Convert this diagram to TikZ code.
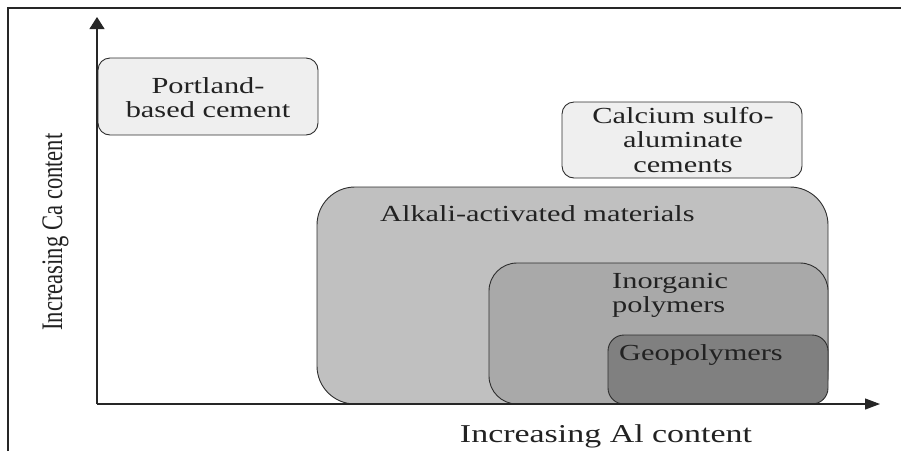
\documentclass[tikz,border=0pt]{standalone}
\usepackage{fontspec}
\setmainfont{Liberation Serif}
\usepackage{xcolor}
\usepackage{graphicx}
\usetikzlibrary{arrows.meta}
\definecolor{inkText}{HTML}{222222}
\definecolor{boxEdge}{HTML}{2E2E2E}
\definecolor{paleFill}{HTML}{EFEFEF}
\definecolor{aamFill}{HTML}{C0C0C0}
\definecolor{ipFill}{HTML}{A9A9A9}
\definecolor{geoFill}{HTML}{808080}
\newcommand{\wide}[1]{\scalebox{1.32}[1]{#1}}

\begin{document}
\begin{tikzpicture}[x=1pt, y=-1pt,
    lbl/.style={inner sep=0pt, text=inkText, font=\fontsize{23}{24.5}\selectfont},
    region/.style={draw=boxEdge, line width=0.9pt},
    axis/.style={draw=black!85, line width=1.1pt}]
  \useasboundingbox (0,0) rectangle (901,451);
  \coordinate (origin) at (97,404);
  \coordinate (ytip) at (97,17);
  \coordinate (xtip) at (880,404);
  % frame
  \draw[line width=1.6pt, black!85] (8,451) -- (8,8) -- (901,8);
  % families of binders
  \filldraw[region, fill=paleFill, rounded corners=12pt] (98,58) rectangle (318,135);
  \filldraw[region, fill=paleFill, rounded corners=12pt] (562,102) rectangle (802,178);
  \filldraw[region, fill=aamFill, rounded corners=38pt] (317,187) rectangle (828,404);
  \filldraw[region, fill=ipFill, rounded corners=28pt] (489,263) rectangle (828,404);
  \filldraw[region, fill=geoFill, rounded corners=16pt] (608,335) rectangle (828,404);
  \node[lbl, anchor=base] (portland) at (208,93)
    {\wide{\begin{tabular}[t]{@{}c@{}}Portland-\\based cement\end{tabular}}};
  \node[lbl, anchor=base] (csa) at (683,123)
    {\wide{\begin{tabular}[t]{@{}c@{}}Calcium sulfo-\\aluminate\\cements\end{tabular}}};
  \node[lbl, anchor=base west] (aam) at (380,221) {\wide{Alkali-activated materials}};
  \node[lbl, anchor=base west] (inorg) at (612,288)
    {\wide{\begin{tabular}[t]{@{}l@{}}Inorganic\\polymers\end{tabular}}};
  \node[lbl, anchor=base west] (geo) at (619,360) {\wide{Geopolymers}};
  % axes
  \draw[axis, -{Triangle[length=12pt, width=15pt]}] (origin) -- (ytip);
  \draw[axis, -{Triangle[length=15pt, width=11pt]}] (origin) -- (xtip);
  \node[lbl, anchor=base, font=\fontsize{25.7}{27}\selectfont] (xlabel) at (606,442)
    {\wide{Increasing Al content}};
  \node[lbl, anchor=base, rotate=90, font=\fontsize{22.6}{24}\selectfont] (ylabel) at (62,232)
    {\scalebox{1}[1.32]{Increasing Ca content}};
\end{tikzpicture}
\end{document}
